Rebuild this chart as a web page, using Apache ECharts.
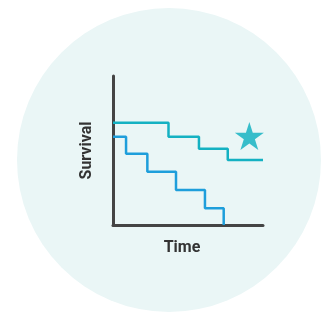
<!DOCTYPE html>
<html>
<head>
<meta charset="utf-8">
<script src="https://cdn.jsdelivr.net/npm/echarts@6/dist/echarts.min.js"></script>
<style>
  html, body { margin: 0; padding: 0; background: #fff; }
  #chart { width: 322px; height: 314px; }
</style>
</head>
<body>
<div id="chart"></div>
<script>
// step curves (time, survival %)
const treatedTime = [0, 37, 57.3, 76.5, 100]
const treatedSurv = [68.7, 59.3, 51.2, 43.6, 43.6]
const controlTime = [0, 8.7, 22.9, 42, 61.3, 73.8]
const controlSurv = [59.3, 47.9, 35.8, 23.5, 11.2, 0]
const starPoint = [90.9, 59.7]

const toPairs = (xs, ys) => xs.map((x, i) => [x, ys[i]])

const starPath = 'path://M50 0 L61.23 34.55 L97.55 34.55 L68.17 55.9 L79.39 90.45 L50 69.1 L20.61 90.45 L31.83 55.9 L2.45 34.55 L38.77 34.55 Z'

const chart = echarts.init(document.getElementById('chart'))
chart.setOption({
  animation: false,
  graphic: [{
    type: 'circle',
    z: -10,
    shape: { cx: 169, cy: 160, r: 152 },
    style: { fill: '#EAF6F6' }
  }],
  grid: { left: 113, top: 76, width: 150, height: 149 },
  xAxis: {
    type: 'value', min: 0, max: 100,
    name: 'Time', nameLocation: 'middle', nameGap: 15,
    nameTextStyle: { fontFamily: 'Roboto', fontSize: 16, fontWeight: 'bold', color: '#333', padding: [0, 12, 0, 0] },
    axisLine: { show: true, lineStyle: { color: '#444', width: 3 } },
    axisTick: { show: false }, axisLabel: { show: false }, splitLine: { show: false }
  },
  yAxis: {
    type: 'value', min: 0, max: 100,
    name: 'Survival', nameLocation: 'middle', nameGap: 18,
    nameTextStyle: { fontFamily: 'Roboto', fontSize: 16, fontWeight: 'bold', color: '#333' },
    axisLine: { show: true, lineStyle: { color: '#444', width: 3 } },
    axisTick: { show: false }, axisLabel: { show: false }, splitLine: { show: false }
  },
  series: [
    {
      type: 'line', step: 'end', symbol: 'none',
      data: toPairs(treatedTime, treatedSurv),
      lineStyle: { color: '#14B1C2', width: 2.5 }
    },
    {
      type: 'line', step: 'end', symbol: 'none',
      data: toPairs(controlTime, controlSurv),
      lineStyle: { color: '#1E9EDB', width: 2.5 }
    },
    {
      type: 'scatter', symbol: starPath, symbolSize: [29, 28],
      data: [starPoint],
      itemStyle: { color: '#0AAFBF' }
    }
  ]
})
</script>
</body>
</html>
